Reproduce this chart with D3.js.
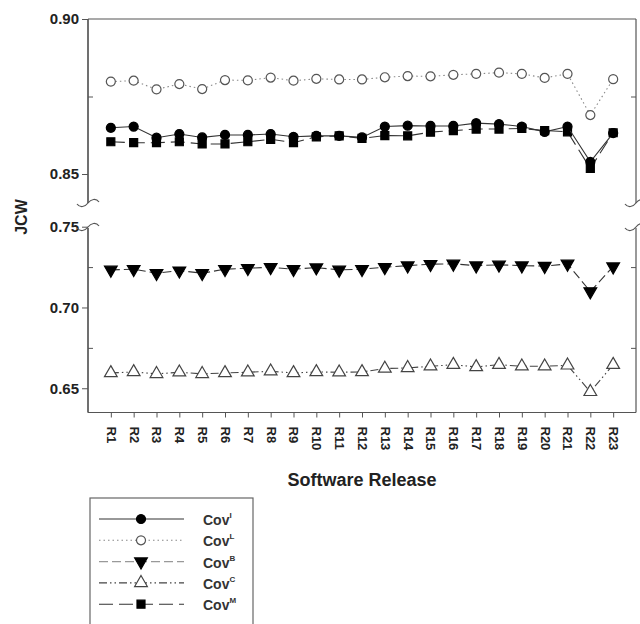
<!DOCTYPE html>
<html>
<head>
<meta charset="utf-8">
<script src="https://cdn.jsdelivr.net/npm/d3@7"></script>
<style>
  body { margin: 0; background: #fff; }
  svg { display: block; font-family: "Liberation Sans", Arial, sans-serif; }
</style>
</head>
<body>
<svg id="chart" width="640" height="624"></svg>
<script>
// releases R1..R23
const releases = ["R1","R2","R3","R4","R5","R6","R7","R8","R9","R10","R11","R12",
  "R13","R14","R15","R16","R17","R18","R19","R20","R21","R22","R23"];

const covI = [0.8649,0.8653,0.8617,0.8629,0.8618,0.8626,0.8626,0.8629,0.8620,0.8623,0.8623,0.8618,
  0.8653,0.8656,0.8655,0.8655,0.8664,0.8661,0.8653,0.8636,0.8653,0.8539,0.8632];
const covL = [0.8798,0.8801,0.8773,0.8790,0.8774,0.8803,0.8802,0.8811,0.8801,0.8807,0.8805,0.8805,
  0.8812,0.8816,0.8815,0.8820,0.8823,0.8827,0.8823,0.8810,0.8823,0.8690,0.8806];
const covB = [0.7233,0.7237,0.7212,0.7228,0.7212,0.7237,0.7243,0.7249,0.7237,0.7247,0.7233,0.7237,
  0.7249,0.7259,0.7268,0.7270,0.7259,0.7264,0.7259,0.7256,0.7270,0.7099,0.7253];
const covC = [0.6595,0.6601,0.6589,0.6599,0.6589,0.6595,0.6599,0.6605,0.6595,0.6601,0.6599,0.6601,
  0.6622,0.6626,0.6636,0.6646,0.6632,0.6646,0.6636,0.6636,0.6642,0.6478,0.6646];
const covM = [0.8604,0.8601,0.8601,0.8604,0.8597,0.8597,0.8604,0.8612,0.8601,0.8620,0.8623,0.8615,
  0.8624,0.8623,0.8635,0.8640,0.8645,0.8645,0.8647,0.8640,0.8636,0.8518,0.8633];

const upperMajor = [0.85, 0.90];
const upperMinor = [0.875];
const lowerMajor = [0.65, 0.70, 0.75];
const lowerMinor = [0.675, 0.725];

const left = 88, right = 636;
const upperTop = 19, upperBottom = 205;
const lowerTop = 226.7, lowerBottom = 412.5;

const svg = d3.select("#chart");

const x = d3.scalePoint().domain(releases).range([left, right]).padding(1);
const yU = d3.scaleLinear().domain([0.84, 0.90]).range([upperBottom, upperTop]);
const yL = d3.scaleLinear().domain([0.635, 0.75]).range([lowerBottom, lowerTop]);

const axisColor = "#555";

// top border
svg.append("line").attr("x1", left).attr("x2", right).attr("y1", upperTop).attr("y2", upperTop)
  .attr("stroke", axisColor).attr("stroke-width", 1.2);

// y axes: major ticks outward with labels, minor ticks inward, right side minor only
function yAxes(scale, major, minor, y1, y2) {
  const g = svg.append("g").attr("transform", `translate(${left},0)`)
    .call(d3.axisLeft(scale).tickValues(major).tickSize(6).tickSizeOuter(0).tickFormat(d3.format(".2f")));
  g.selectAll(".tick text").attr("x", -9).attr("font-size", 15).attr("font-weight", "bold").attr("fill", "#222");

  const gm = svg.append("g").attr("transform", `translate(${left},0)`)
    .call(d3.axisLeft(scale).tickValues(minor).tickSize(-5).tickFormat(""));

  const r = svg.append("g").attr("transform", `translate(${right},0)`)
    .call(d3.axisRight(scale).tickValues(minor).tickSize(-5).tickFormat(""));

  [g, gm, r].forEach(a => {
    a.select(".domain").attr("d", `M0,${y1}V${y2}`).attr("stroke", axisColor).attr("stroke-width", 1.2);
    a.selectAll(".tick line").attr("stroke", axisColor);
  });
}
yAxes(yU, upperMajor, upperMinor, upperTop, 203);
yAxes(yL, lowerMajor, lowerMinor, 228, lowerBottom);

// axis break curls
function curl(cx, cy) {
  svg.append("path")
    .attr("d", `M${cx-11},${cy+1} C${cx-8},${cy+5} ${cx-3},${cy+4} ${cx},${cy} C${cx+3},${cy-4} ${cx+8},${cy-5} ${cx+11},${cy-1}`)
    .attr("fill", "none").attr("stroke", axisColor).attr("stroke-width", 1.2);
}
[left, right].forEach(cx => { curl(cx, 203); curl(cx, 227); });

// x axis
const xg = svg.append("g").attr("transform", `translate(0,${lowerBottom})`)
  .call(d3.axisBottom(x).tickSize(5).tickSizeOuter(0));
xg.select(".domain").attr("d", `M${left},0H${right}`).attr("stroke", axisColor).attr("stroke-width", 1.2);
xg.selectAll(".tick line").attr("stroke", axisColor);
xg.selectAll(".tick text")
  .attr("transform", "rotate(90)")
  .attr("x", 14).attr("y", 0).attr("dy", "0.35em")
  .style("text-anchor", "start")
  .attr("font-size", 13).attr("font-weight", "bold").attr("fill", "#222");

// titles
svg.append("text").attr("x", 362).attr("y", 486).attr("text-anchor", "middle")
  .attr("font-size", 18).attr("font-weight", "bold").attr("fill", "#222").text("Software Release");
svg.append("text").attr("transform", "translate(27,217) rotate(-90)").attr("text-anchor", "middle")
  .attr("font-size", 16).attr("font-weight", "bold").attr("fill", "#222").text("JCW");

// series
const series = [
  {name: "L", values: covL, y: yU, dash: "1.5,3", line: "#888", mark: "circle", fill: "#fff", stroke: "#555"},
  {name: "B", values: covB, y: yL, dash: "9,4", line: "#333", legendLine: "#999", mark: "down", fill: "#000", stroke: "#000"},
  {name: "C", values: covC, y: yL, dash: "8,3,1.5,3,1.5,3", line: "#444", mark: "up", fill: "#fff", stroke: "#444"},
  {name: "M", values: covM, y: yU, dash: "14,6", line: "#333", mark: "square", fill: "#000", stroke: "#000"},
  {name: "I", values: covI, y: yU, dash: null, line: "#333", mark: "circle", fill: "#000", stroke: "#000"}
];

const symbols = {
  circle: d3.symbol().type(d3.symbolCircle).size(64),
  square: d3.symbol().type(d3.symbolSquare).size(64),
  up: d3.symbol().type(d3.symbolTriangle).size(70),
  down: d3.symbol().type(d3.symbolTriangle).size(70)
};
function marker(g, s, cx, cy) {
  g.append("path").attr("d", symbols[s.mark]())
    .attr("transform", `translate(${cx},${cy})` + (s.mark === "down" ? " rotate(180)" : ""))
    .attr("fill", s.fill).attr("stroke", s.stroke).attr("stroke-width", 1.2);
}

series.forEach(s => {
  const line = d3.line().x((d, i) => x(releases[i])).y(d => s.y(d));
  svg.append("path").datum(s.values).attr("d", line)
    .attr("fill", "none").attr("stroke", s.line).attr("stroke-width", 1.1)
    .attr("stroke-dasharray", s.dash);
  const g = svg.append("g");
  s.values.forEach((v, i) => marker(g, s, x(releases[i]), s.y(v)));
});

// legend
const legendOrder = ["I", "L", "B", "C", "M"];
svg.append("rect").attr("x", 90).attr("y", 498).attr("width", 163).attr("height", 150)
  .attr("fill", "none").attr("stroke", "#666").attr("stroke-width", 1.2);
legendOrder.forEach((name, k) => {
  const s = series.find(d => d.name === name);
  const ly = 519 + k * 21.3;
  svg.append("line").attr("x1", 99).attr("x2", 184).attr("y1", ly).attr("y2", ly)
    .attr("stroke", s.legendLine || s.line).attr("stroke-width", 1.1).attr("stroke-dasharray", s.dash);
  marker(svg, s, 141, ly);
  const t = svg.append("text").attr("x", 203).attr("y", ly + 6)
    .attr("font-size", 14).attr("font-weight", "bold").attr("fill", "#333").text("Cov");
  t.append("tspan").attr("dy", -7).attr("font-size", 8).text(name);
});
</script>
</body>
</html>
